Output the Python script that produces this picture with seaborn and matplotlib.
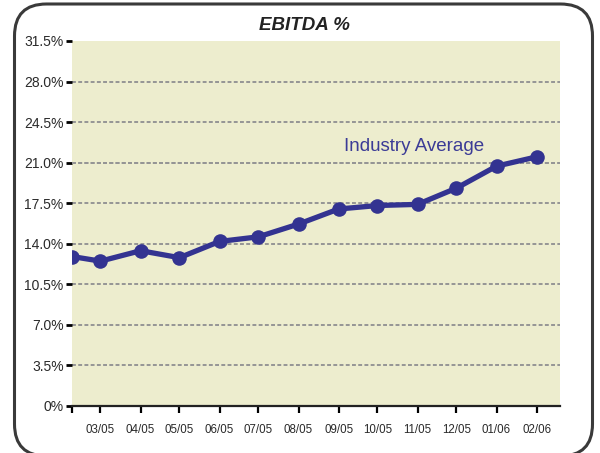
import numpy as np
import pandas as pd
import matplotlib
matplotlib.use("Agg")
import matplotlib.pyplot as plt
from matplotlib.patches import FancyBboxPatch
from matplotlib.transforms import IdentityTransform
import seaborn as sns

# data
dates = ['2005-02-07', '2005-03-01', '2005-04-01', '2005-05-01', '2005-06-01',
         '2005-07-01', '2005-08-01', '2005-09-01', '2005-10-01', '2005-11-01',
         '2005-12-01', '2006-01-01', '2006-02-01']
ebitda = [12.9, 12.5, 13.4, 12.8, 14.2, 14.6, 15.7, 17.0, 17.3, 17.4, 18.8, 20.7, 21.5]
month_labels = ['03/05', '04/05', '05/05', '06/05', '07/05', '08/05',
                '09/05', '10/05', '11/05', '12/05', '01/06', '02/06']
y_ticks = [0, 3.5, 7.0, 10.5, 14.0, 17.5, 21.0, 24.5, 28.0, 31.5]
industry_avg = 21.0

df = pd.DataFrame({'date': pd.to_datetime(dates), 'ebitda': ebitda})

sns.set_style("white")
plt.rcParams['font.family'] = ['Liberation Sans', 'DejaVu Sans']

fig = plt.figure(figsize=(6, 4.53), dpi=100)
ax = fig.add_axes([0.12, 0.1038, 0.8133, 0.8057])
ax.set_facecolor('#EDEDCE')

sns.lineplot(data=df, x='date', y='ebitda', ax=ax, color='#333391',
             linewidth=3.8, marker='o', markersize=10.5, markeredgewidth=0,
             zorder=5)

grid_col = '#959595'
grid_ls = (0, (2.0, 1.2))

# industry average reference (sits on the 21% gridline)
ax.axhline(industry_avg, color=grid_col, lw=1.4, ls=grid_ls, zorder=2)
ax.text(pd.Timestamp('2005-09-05'), industry_avg + 0.7, 'Industry Average',
        color='#3b3b96', fontsize=13.5, va='bottom', ha='left')

ax.set_ylim(0, 31.5)
ax.set_yticks(y_ticks)
ax.set_yticklabels(['0%'] + ['%.1f%%' % v for v in y_ticks[1:]], fontsize=10,
                   color='#2a2a2a')
ax.set_xlim(pd.Timestamp('2005-02-07'), pd.Timestamp('2006-02-19'))
xt = list(df['date'])
ax.set_xticks(xt)
ax.set_xticklabels([''] + month_labels, fontsize=8.3, color='#2a2a2a')

ax.grid(axis='y', color=grid_col, lw=1.4, ls=grid_ls)
ax.set_axisbelow(True)
gls = ax.yaxis.get_gridlines()
gls[0].set_visible(False)
gls[-1].set_visible(False)

ax.tick_params(axis='y', length=4, width=2, color='black', pad=2, left=True)
ax.tick_params(axis='x', length=5, width=1.6, color='black', pad=8, bottom=True)
for s in ['top', 'right', 'left']:
    ax.spines[s].set_visible(False)
ax.spines['bottom'].set_color('#222222')
ax.spines['bottom'].set_linewidth(1.6)
ax.set_xlabel('')
ax.set_ylabel('')

fig.text(0.508, 0.943, 'EBITDA %', ha='center', va='center', fontsize=13.5,
         fontweight='bold', fontstyle='italic', color='#222222')

# rounded frame around the chart (bottom edge runs off the canvas)
frame = FancyBboxPatch((14.5, -3), 578, 452,
                       boxstyle='round,pad=0,rounding_size=32',
                       transform=IdentityTransform(), fill=False,
                       edgecolor='#3a3a3a', linewidth=2.2)
fig.patches.append(frame)

fig.savefig('out.png', dpi=100)
